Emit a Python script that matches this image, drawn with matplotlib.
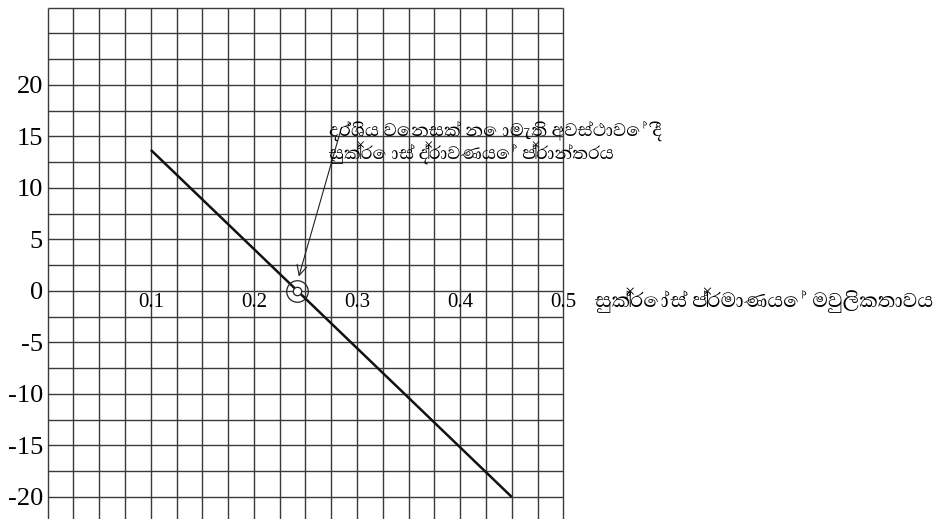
import numpy as np
import matplotlib
matplotlib.use("Agg")
import matplotlib.pyplot as plt

# sucrose molality vs. mass change line
line_x = [0.1, 0.45]
line_y = [13.7, -20.0]
zero_x = 0.2415                      # point where the line crosses 0
x_ticks = [0.1, 0.2, 0.3, 0.4, 0.5]
y_ticks = [-20, -15, -10, -5, 0, 5, 10, 15, 20]

note_text = "දර්ශිය වෙනසක් නොමැති අවස්ථාවේ දී\nසුක්‍රොස් ද්‍රාවණයේ ප්‍රාන්තරය"
xlabel_text = "සුක්‍රෝස් ප්‍රමාණයේ මවුලිකතාවය"

plt.rcParams["axes.unicode_minus"] = False
si_family = ["Abhaya Libre", "Noto Sans Sinhala", "DejaVu Sans"]

fig = plt.figure(figsize=(9.41, 5.19), dpi=100)
ylo, yhi = -22.14, 27.5
ax = fig.add_axes([47.7 / 941, 0, 515.6 / 941, (519 - 7.75) / 519])
ax.set_xlim(0, 0.5)
ax.set_ylim(ylo, yhi)
for s in ax.spines.values():
    s.set_visible(False)

# graph paper: 0.025 by 2.5 cells
grid_c = "#3a3a3a"
gx = np.arange(0, 0.5 + 1e-9, 0.025)
gy = np.arange(-20, yhi + 1e-9, 2.5)
ax.vlines(gx, ylo, yhi, colors=grid_c, lw=1.0, clip_on=False)
ax.hlines(np.append(gy, -22.5), 0, 0.5, colors=grid_c, lw=1.0, clip_on=False)

ax.set_xticks([])
ax.set_yticks(y_ticks)
ax.set_yticklabels([str(v) for v in y_ticks], family="Liberation Serif", fontsize=19)
ax.tick_params(axis="y", length=0, pad=3.5)

for v in x_ticks:
    ax.text(v, -1.1, str(v), ha="center", va="center", family="Liberation Serif", fontsize=15)

ax.plot(line_x, line_y, color="#111111", lw=1.8, solid_capstyle="butt")

# double circle on the intercept
ax.plot([zero_x], [0], marker="o", ms=15.5, mfc="none", mec="#222222", mew=0.9)
ax.plot([zero_x], [0], marker="o", ms=6, mfc="white", mec="#222222", mew=0.9, zorder=5)

ax.annotate("", xy=(0.2435, 1.4), xytext=(0.285, 15.9),
            arrowprops=dict(arrowstyle="->", color="#222222", lw=0.8,
                            mutation_scale=18, shrinkA=0, shrinkB=0))
ax.text(0.2725, 14.4, note_text, ha="left", va="center", family=si_family,
        fontsize=16.8, linespacing=1.05)
ax.text(0.531, -0.9, xlabel_text, ha="left", va="center", family=si_family,
        fontsize=18.7, clip_on=False)

fig.savefig("out.png", dpi=100)
